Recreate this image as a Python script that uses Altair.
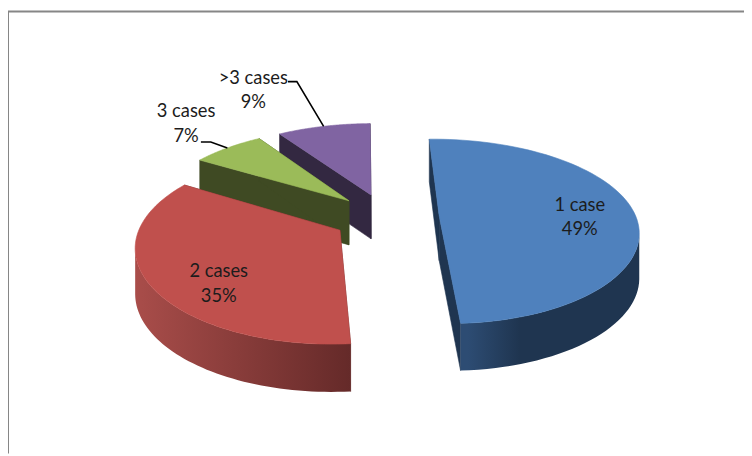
import math
import altair as alt

categories = ["1 case", "2 cases", "3 cases", ">3 cases"]
shares = [49, 35, 7, 9]
top_colors = ["#4f81bd", "#c0504d", "#9bbb59", "#8064a2"]
wall_colors = ["#1f3550", "#652a29", "#3f4a23", "#332841"]
end_pad = [1.6, 0, 0, 0]
side_stops = [
    [("#2d4c73", 0.0), ("#2d4c73", 0.04), ("#1f3550", 0.33), ("#1f3550", 1.0)],
    [("#a94d4a", 0.0), ("#652a29", 1.0)],
    None,
    None,
]

# Projection of the tilted, exploded pie (screen px minus the 8px page margin)
CX, CY, A, B, K, KX, EXPLODE, START = 382.3, 209.0, 199.0, 91.0, 0.167, 0.15, 0.27, -1.0


def project(t, r, mid, bottom=False):
    tr, mr = math.radians(t), math.radians(mid)
    X = r * math.sin(tr) + EXPLODE * math.sin(mr)
    Y = r * math.cos(tr) + EXPLODE * math.cos(mr)
    w = 1 + K * Y
    px, py = CX + A * X / (1 + KX * Y), CY - B * Y / w
    if bottom:
        py += 31 + 14 / w
    return [round(px, 2), round(py, 2)]


def feature(points):
    ring = points + [points[0]]
    return {"type": "Feature", "geometry": {"type": "Polygon", "coordinates": [ring]}, "properties": {}}


def shape_layer(feats, fill):
    stroke = fill if isinstance(fill, str) else None
    kw = {"stroke": stroke, "strokeWidth": 0.6} if stroke else {}
    return alt.Chart(alt.Data(values=feats)).mark_geoshape(fill=fill, **kw).project(
        type="identity", scale=1, translate=[0, 0]
    )


spans = []
t = START
for v in shares:
    spans.append((t, t + v * 3.6))
    t += v * 3.6
mids = [(a + b) / 2 for a, b in spans]

layers = []
for i in (3, 2, 1, 0):
    a, b = spans[i]
    b += end_pad[i]
    m = mids[i]
    arc = [a + (b - a) * s / 80 for s in range(81)]
    walls = [feature([project(0, 0, m), project(e, 1, m), project(e, 1, m, True), project(0, 0, m, True)]) for e in (a, b)]
    layers.append(shape_layer(walls, wall_colors[i]))
    if side_stops[i]:
        # only the part of the rim that faces the viewer: up to the widest point of the slice
        xs = [project(e, 1, m)[0] for e in arc]
        if i == 0:
            front = arc[xs.index(max(xs)):]
        else:
            front = arc[:xs.index(min(xs)) + 1]
        rim = feature([project(e, 1, m) for e in front] + [project(e, 1, m, True) for e in reversed(front)])
        gradient = alt.LinearGradient(
            gradient="linear", x1=0, x2=1, y1=0, y2=0,
            stops=[alt.GradientStop(color=c, offset=o) for c, o in side_stops[i]],
        )
        layers.append(shape_layer([rim], gradient))
    top = feature([project(0, 0, m)] + [project(e, 1, m) for e in arc])
    layers.append(shape_layer([top], top_colors[i]))

# Labels: text, percent, centre on the page
label_pos = {"1 case": (578, 196.5), "2 cases": (213, 263.5), "3 cases": (180, 102), ">3 cases": (248, 68)}
rows = []
for c, v in zip(categories, shares):
    x, y = label_pos[c]
    rows.append({"x": x, "y": y, "t": c})
    rows.append({"x": x, "y": y + 25, "t": f"{v}%"})

labels = alt.Chart(alt.Data(values=rows)).mark_text(
    font="Lato", fontSize=18.5, color="#1c1c1c", align="center", baseline="middle"
).encode(x=alt.X("x:Q", scale=None), y=alt.Y("y:Q", scale=None), text="t:N")

# Leaders run from beside the label to the slice rim
leaders = []
for idx, start, elbow in ((3, (283, 72), (292, 72)), (2, (195, 133), (205, 133))):
    end = project(mids[idx], 1, mids[idx])
    for o, p in enumerate((start, elbow, end)):
        leaders.append({"x": p[0], "y": p[1], "o": o, "g": idx})

leader = alt.Chart(alt.Data(values=leaders)).mark_line(color="#000000", strokeWidth=1.6).encode(
    x=alt.X("x:Q", scale=None), y=alt.Y("y:Q", scale=None), order="o:Q", detail="g:N"
)

frame_rows = [{"x": 0, "y": 448, "o": 0}, {"x": 0, "y": 1, "o": 1}, {"x": 744, "y": 1, "o": 2}]
frame = alt.Chart(alt.Data(values=frame_rows)).mark_line(color="#868686", strokeWidth=2).encode(
    x=alt.X("x:Q", scale=None), y=alt.Y("y:Q", scale=None), order="o:Q"
)

chart = alt.layer(frame, *layers, leader, labels).properties(
    width=744, height=448, padding=0, autosize=alt.AutoSizeParams(type="none"), background="#ffffff"
).configure_view(stroke=None)

chart.save("out.html", embed_options={"renderer": "svg", "actions": False})
